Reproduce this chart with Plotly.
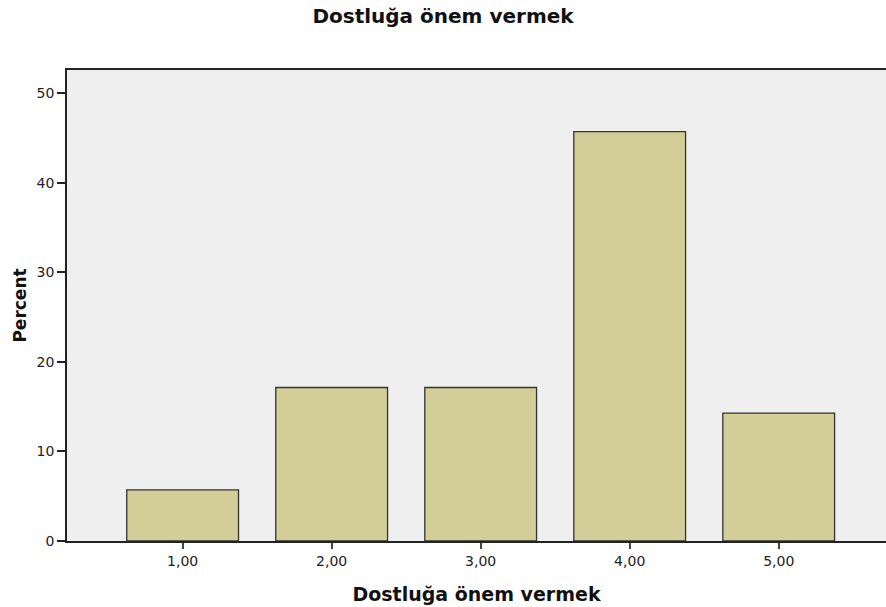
import plotly.graph_objects as go

categories = [1, 2, 3, 4, 5]
tick_labels = ["1,00", "2,00", "3,00", "4,00", "5,00"]
percent = [5.71, 17.14, 17.14, 45.71, 14.29]
y_ticks = [0, 10, 20, 30, 40, 50]

FONT = "DejaVu Sans, Verdana, sans-serif"

fig = go.Figure(go.Bar(
    x=categories, y=percent, width=0.75,
    marker=dict(color="#D3CE97", line=dict(color="#333333", width=1.3)),
))

fig.update_layout(
    width=886, height=607,
    margin=dict(l=67, r=0, t=70, b=66),
    paper_bgcolor="white", plot_bgcolor="#EFEFEF",
    showlegend=False,
    title=dict(text="<b>Dostluğa önem vermek</b>", x=0.5, xanchor="center",
               y=1 - 16/607, yanchor="middle", font=dict(family=FONT, size=20, color="#111")),
    font=dict(family=FONT, size=14, color="#222"),
)
fig.update_xaxes(
    range=[0.224, 5.72], tickvals=categories, ticktext=tick_labels,
    showgrid=False, zeroline=False,
    showline=True, linecolor="#222", linewidth=1.5, mirror=True,
    ticks="outside", ticklen=6, tickcolor="#444", tickwidth=1.5,
    tickfont=dict(family=FONT, size=14, color="#222"),
    title=dict(text="<b>Dostluğa önem vermek</b>", font=dict(family=FONT, size=19, color="#111"), standoff=20),
)
fig.update_yaxes(
    range=[0, 52.6], tickvals=y_ticks,
    showgrid=False, zeroline=False,
    showline=True, linecolor="#222", linewidth=1.5,
    ticks="outside", ticklen=8, tickcolor="#222", tickwidth=1.5,
    tickfont=dict(family=FONT, size=14, color="#222"),
    title=dict(text="<b>Percent</b>", font=dict(family=FONT, size=17, color="#111"), standoff=6),
)

fig.write_html("out.html", config={"displayModeBar": False},
               post_script="document.body.style.margin='0';document.body.style.overflow='hidden';")
